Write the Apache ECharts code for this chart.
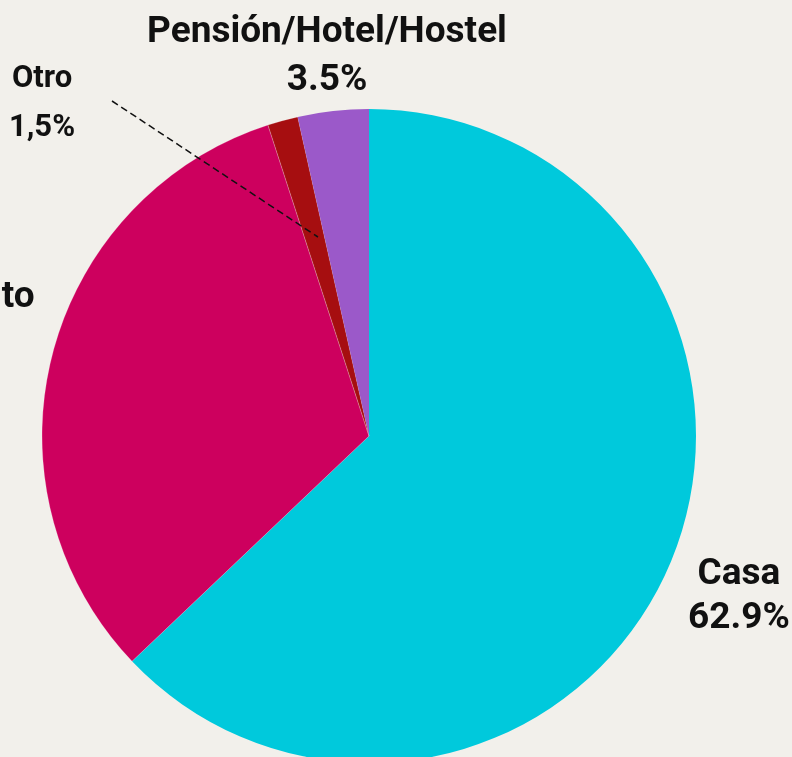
<!DOCTYPE html>
<html>
<head>
<meta charset="utf-8">
<script src="https://cdn.jsdelivr.net/npm/echarts@6/dist/echarts.min.js"></script>
<style>
html,body{margin:0;padding:0;background:#f2f0eb;}
#chart{width:792px;height:757px;}
</style>
</head>
<body>
<div id="chart"></div>
<script>
const categories = ['Casa', 'Departamento', 'Otro', 'Pensión/Hotel/Hostel'];
const values = [62.9, 32.1, 1.5, 3.5];
const valueLabels = ['62.9%', '32.1%', '1,5%', '3.5%'];
const colors = ['#00c9dc', '#cd005e', '#a60e10', '#9b59c9'];

// label text placement (centre of each two-line label block)
const labelPos = [
  {x: 739, y: 597, lh: 44, fs: 37},
  {x: -84, y: 320, lh: 44, fs: 37},
  {x: 42, y: 104, lh: 49, fs: 31},
  {x: 327, y: 57, lh: 48, fs: 37}
];
// dashed leader for the small "Otro" slice
const leader = [[112, 101], [318, 237]];

const chart = echarts.init(document.getElementById('chart'), null, {renderer: 'canvas'});
chart.setOption({
  backgroundColor: '#f2f0eb',
  animation: false,
  series: [{
    type: 'pie',
    center: [369, 436],
    radius: [0, 327],
    startAngle: 90,
    clockwise: true,
    emphasis: {disabled: true},
    label: {show: false},
    labelLine: {show: false},
    data: categories.map((c, i) => ({
      name: c,
      value: values[i],
      itemStyle: {
        color: colors[i],
        borderColor: 'rgba(255,255,255,0.35)',
        borderWidth: (i === 1 || i === 2) ? 0.6 : 0
      }
    }))
  }],
  graphic: categories.map((c, i) => ({
    type: 'text',
    silent: true,
    z: 10,
    style: {
      text: c + '\n' + valueLabels[i],
      x: labelPos[i].x,
      y: labelPos[i].y,
      align: 'center',
      verticalAlign: 'middle',
      fill: '#111',
      fontFamily: 'Roboto',
      fontWeight: 'bold',
      fontSize: labelPos[i].fs,
      lineHeight: labelPos[i].lh
    }
  })).concat([{
    type: 'polyline',
    silent: true,
    z: 11,
    shape: {points: leader},
    style: {stroke: '#111', lineWidth: 1.5, lineDash: [7, 4], fill: null}
  }])
});
</script>
</body>
</html>
